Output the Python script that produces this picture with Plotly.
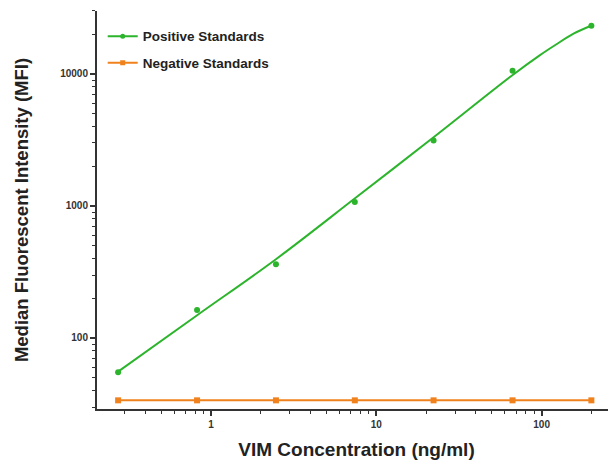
import plotly.graph_objects as go

# Standards concentrations (ng/ml)
conc = [0.274, 0.823, 2.47, 7.41, 22.2, 66.7, 200]
pos_mfi = [55, 163, 362, 1070, 3130, 10600, 23200]
neg_mfi = [33.7, 33.7, 33.7, 33.7, 33.7, 33.7, 33.7]

# Fitted curve
fit_x = [0.274, 0.82, 2.47, 7.43, 22.1, 65.9, 97.8, 123, 156, 199]
fit_y = [55.6, 148, 395, 1143, 3300, 9700, 13900, 16800, 20200, 23200]

green = "#2DB42D"
orange = "#F0821E"
axis_col = "#333333"

y_major = [100, 1000, 10000]
y_minor = [m * d for d in [10, 100, 1000, 10000] for m in range(2, 10)]
x_major = [1, 10, 100]
x_minor = [m * d for d in [0.1, 1, 10, 100] for m in range(2, 10)]

fig = go.Figure()
fig.add_trace(go.Scatter(x=fit_x, y=fit_y, mode="lines", line=dict(color=green, width=2, shape="spline"),
                         showlegend=False, hoverinfo="skip"))
fig.add_trace(go.Scatter(x=conc, y=pos_mfi, mode="markers", name="Positive Standards",
                         marker=dict(color=green, size=6, symbol="circle"), showlegend=False))
fig.add_trace(go.Scatter(x=conc, y=neg_mfi, mode="lines+markers", name="Negative Standards",
                         line=dict(color=orange, width=2),
                         marker=dict(color=orange, size=6, symbol="square"), showlegend=False))
# legend entries
fig.add_trace(go.Scatter(x=[None], y=[None], mode="lines+markers", name="Positive Standards", legendgroup="a",
                         line=dict(color=green, width=2), marker=dict(color=green, size=5, symbol="circle")))
fig.add_trace(go.Scatter(x=[None], y=[None], mode="lines+markers", name="Negative Standards", legendgroup="b",
                         line=dict(color=orange, width=2), marker=dict(color=orange, size=5, symbol="square")))

fig.update_layout(
    width=608, height=458,
    margin=dict(l=89, r=0, t=3, b=57, autoexpand=False),
    paper_bgcolor="white", plot_bgcolor="white",
    font=dict(family="Liberation Sans, Arial, sans-serif", color="#222222"),
    legend=dict(x=0.011, y=0.975, xanchor="left", yanchor="top",
                font=dict(size=13.5, color="#222222", family="Liberation Sans, Arial, sans-serif", weight="bold"),
                bgcolor="rgba(0,0,0,0)", itemwidth=30, tracegroupgap=6),
)
fig.update_xaxes(
    type="log", range=[-0.690, 2.450],
    showline=True, linecolor=axis_col, linewidth=2, showgrid=False, zeroline=False,
    tickvals=x_major, ticktext=["1", "10", "100"], ticks="outside", ticklen=5, tickwidth=1.5, tickcolor=axis_col,
    tickfont=dict(size=10, color="#333333", weight="bold"),
    minor=dict(tickvals=x_minor, ticks="outside", ticklen=3, tickwidth=1.2, tickcolor=axis_col, showgrid=False),
    title=dict(text="VIM Concentration (ng/ml)", font=dict(size=19, color="#222222", weight="bold"), standoff=14),
    automargin=False,
)
fig.update_yaxes(
    type="log", range=[1.462, 4.477],
    showline=True, linecolor=axis_col, linewidth=2, showgrid=False, zeroline=False,
    tickvals=y_major, ticktext=["100", "1000", "10000"], ticks="outside", ticklen=5, tickwidth=1.5, tickcolor=axis_col,
    tickfont=dict(size=10, color="#333333", weight="bold"),
    minor=dict(tickvals=y_minor, ticks="outside", ticklen=3, tickwidth=1.2, tickcolor=axis_col, showgrid=False),
    title=dict(text="Median Fluorescent Intensity (MFI)", font=dict(size=18.5, color="#222222", weight="bold"), standoff=27),
    automargin=False,
)

fig.write_html("out.html")
